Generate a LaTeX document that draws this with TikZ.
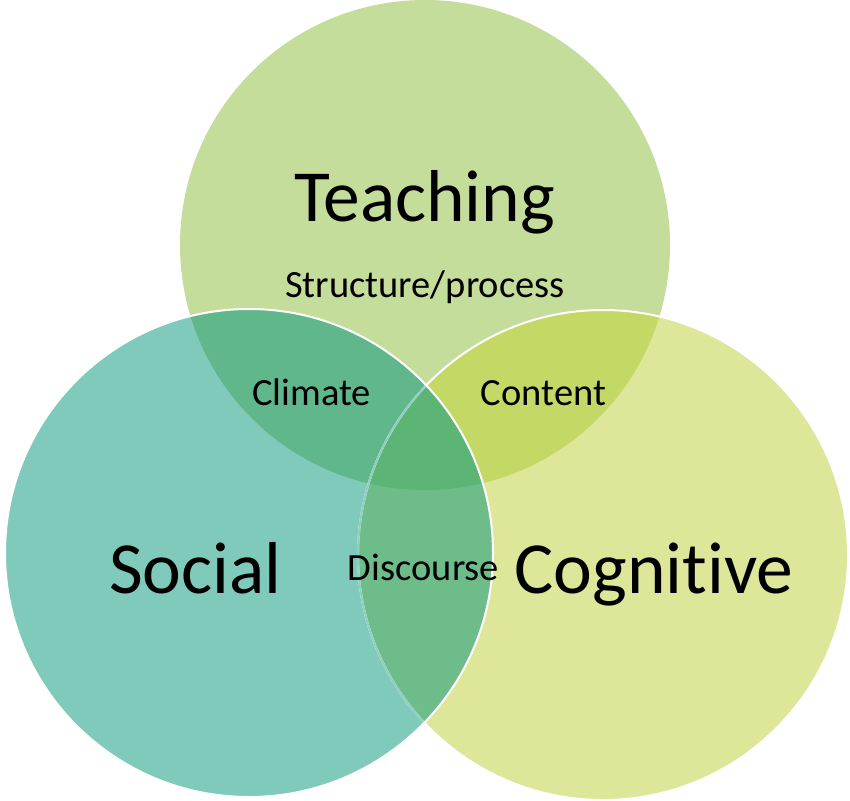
\documentclass[tikz,border=0pt]{standalone}
\usepackage{fontspec}
\setmainfont{Carlito}[Ligatures={NoCommon}]
\definecolor{tcol}{HTML}{C5DD9B}
\definecolor{scol}{HTML}{7FCABA}
\definecolor{ccol}{HTML}{DEE699}
\definecolor{tscol}{HTML}{5FB78B}
\definecolor{tccol}{HTML}{C4D865}
\definecolor{sccol}{HTML}{6DBC8A}
\definecolor{allcol}{HTML}{5DB575}
\definecolor{faintline}{HTML}{8DD0C3}
\tikzset{
  bigtxt/.style={anchor=base,inner sep=0pt,font=\fontsize{73.5}{80}\selectfont},
  smalltxt/.style={anchor=base,inner sep=0pt,font=\fontsize{38.5}{42}\selectfont},
  rim/.style={draw=white,line width=2pt},
}
\begin{document}
\begin{tikzpicture}[x=1pt,y=-1pt]
\useasboundingbox (0,0) rectangle (850,800);
\def\Tc{(425,245) circle (245pt)}
\def\Sc{(249,553) circle (244pt)}
\def\Cc{(603,555) circle (245pt)}
% base fills
\fill[tcol] \Tc;
\fill[ccol] \Cc;
\fill[scol] \Sc;
% pairwise overlaps
\begin{scope}\clip \Tc; \fill[tscol] \Sc; \end{scope}
\begin{scope}\clip \Tc; \fill[tccol] \Cc; \end{scope}
\begin{scope}\clip \Sc; \fill[sccol] \Cc; \end{scope}
\begin{scope}\clip \Tc; \clip \Sc; \fill[allcol] \Cc; \end{scope}
% outlines
\draw[rim] \Cc;
\begin{scope}\clip \Sc; \draw[draw=faintline,line width=2pt] \Cc; \end{scope}
\draw[rim] \Sc;
% labels
\node[bigtxt] (teach) at (424.5,221) {Teaching};
\node[smalltxt] (struct) at (425,297) {Structure/process};
\node[smalltxt] (climate) at (311.5,405) {Climate};
\node[smalltxt] (content) at (543.5,405) {Content};
\node[bigtxt] (social) at (195.5,593) {Social};
\node[smalltxt] (disc) at (423.5,580) {Discourse};
\node[bigtxt] (cog) at (654,593) {Cognitive};
\end{tikzpicture}
\end{document}
